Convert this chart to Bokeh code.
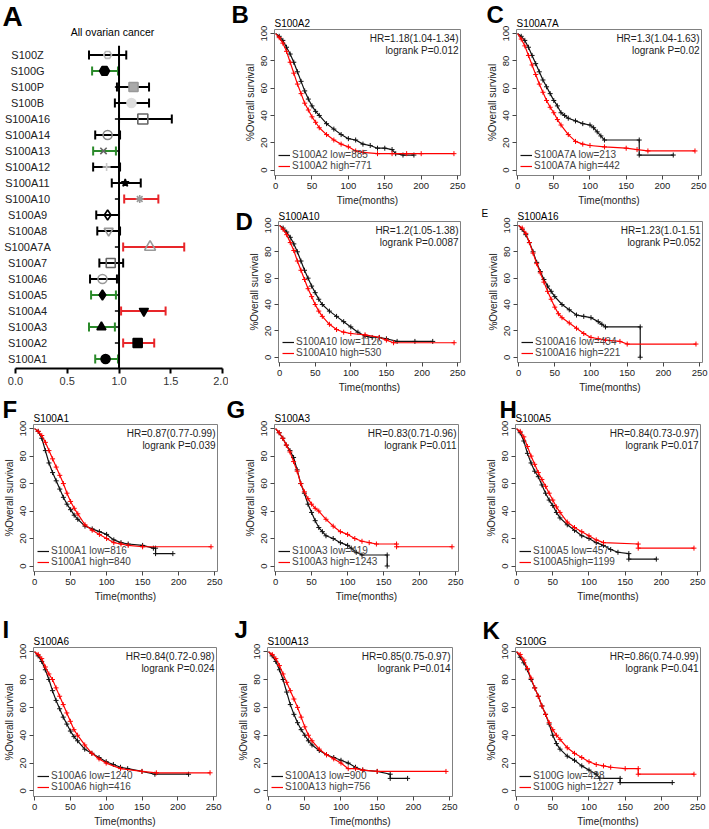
import math
from bokeh.plotting import figure
from bokeh.models import (Range1d, FactorRange, Label, Legend, LegendItem, Span, Title,
                          FixedTicker, ColumnDataSource, NumeralTickFormatter)
from bokeh.layouts import row, column
from bokeh.embed import file_html
from bokeh.resources import INLINE
from bokeh.core.properties import value

FONT = "Liberation Sans"

# ---------------- Panel A data (forest plot) ----------------
genes = ["S100A1", "S100A2", "S100A3", "S100A4", "S100A5", "S100A6", "S100A7",
         "S100A7A", "S100A8", "S100A9", "S100A10", "S100A11", "S100A12", "S100A13",
         "S100A14", "S100A16", "S100B", "S100P", "S100G", "S100Z"]
hr_val = [0.87, 1.18, 0.83, 1.24, 0.84, 0.84, 0.92, 1.30, 0.90, 0.89, 1.20, 1.06, 0.88,
          0.85, 0.89, 1.23, 1.12, 1.14, 0.86, 0.89]
ci_low = [0.77, 1.04, 0.71, 1.02, 0.73, 0.72, 0.81, 1.04, 0.79, 0.78, 1.05, 0.93, 0.75,
          0.75, 0.77, 1.00, 0.96, 0.98, 0.74, 0.71]
ci_high = [0.99, 1.34, 0.96, 1.45, 0.97, 0.98, 1.04, 1.63, 1.01, 1.00, 1.38, 1.21, 1.01,
           0.97, 1.01, 1.51, 1.29, 1.29, 0.99, 1.07]
forest_ticks = [0.0, 0.5, 1.0, 1.5, 2.0]

# styles for panel A
GREEN = "#2a8a2a"
RED = "#e8262a"
ci_colors = [GREEN, RED, GREEN, RED, GREEN, "black", "black", RED, "black", "black",
             RED, "black", "black", GREEN, "black", "black", "black", "black", GREEN, "black"]
mk_shape = ["circle", "square", "triangle", "inverted_triangle", "diamond", "circle", "square",
            "triangle", "inverted_triangle", "diamond", "asterisk", "star", "cross", "x",
            "circle", "square", "circle", "square", "hex", "hex"]
mk_line = ["black", "black", "black", "black", "black", "#999999", "#666666", "#999999",
           "#999999", "black", "#999999", "black", "#cccccc", "#666666", "#888888", "#666666",
           "#dddddd", "#999999", "black", "#bbbbbb"]
mk_fill = ["black", "black", "black", "black", "black", "white", "white", "white", "white",
           "white", "#999999", "black", "#cccccc", "#666666", "white", "white", "#dddddd",
           "#aaaaaa", "black", "white"]
mk_falpha = [1, 1, 1, 1, 1, 0, 0, 0, 0, 0, 1, 1, 1, 1, 0, 0, 1, 1, 1, 0]
mk_size = [9, 9, 9, 9, 10, 9, 9, 11, 9, 10, 8, 8, 8, 9, 9, 10, 9, 9, 10, 8]

# ---------------- KM data ----------------
km_x_ticks = [0, 50, 100, 150, 200, 250]
km_y_ticks = [0, 20, 40, 60, 80, 100]

B_low_t = [0, 5, 10, 15, 20, 25, 30, 35, 40, 45, 50, 55, 60, 70, 80, 90, 100, 110, 120, 130, 140, 150, 160, 165, 175, 190]
B_low_s = [100, 98, 95, 90, 85, 79, 72, 65, 58, 52, 47, 43, 40, 34, 30, 26, 23, 22, 19, 18, 16, 16, 15, 12, 11, 11]
B_high_t = [0, 5, 10, 15, 20, 25, 30, 35, 40, 45, 50, 55, 60, 70, 80, 90, 100, 110, 120, 140, 160, 180, 200, 245]
B_high_s = [100, 97, 93, 87, 79, 71, 63, 56, 49, 44, 39, 35, 31, 26, 22, 19, 17, 14, 13, 12, 12, 12, 12, 12]

C_low_t = [0, 5, 10, 15, 20, 25, 30, 35, 40, 45, 50, 55, 60, 65, 70, 80, 90, 100, 105, 110, 115, 120, 168, 168, 215]
C_low_s = [100, 98, 95, 90, 84, 78, 72, 66, 61, 56, 51, 47, 42, 40, 38, 36, 34, 33, 31, 28, 25, 22, 22, 11, 11]
C_high_t = [0, 5, 10, 15, 20, 25, 30, 35, 40, 45, 50, 55, 60, 70, 80, 90, 100, 120, 150, 165, 180, 245]
C_high_s = [100, 96, 91, 84, 77, 70, 63, 57, 51, 46, 42, 37, 33, 26, 21, 19, 18, 17, 16, 15, 14, 14]

D_low_t = [0, 5, 10, 15, 20, 25, 30, 35, 40, 45, 50, 55, 60, 70, 80, 90, 100, 110, 120, 130, 140, 150, 165, 190, 215]
D_low_s = [100, 98, 95, 91, 86, 80, 73, 66, 60, 54, 49, 44, 40, 35, 31, 27, 23, 19, 16, 15, 15, 14, 12, 12, 12]
D_high_t = [0, 5, 10, 15, 20, 25, 30, 35, 40, 45, 50, 55, 60, 70, 80, 90, 100, 120, 140, 150, 160, 245]
D_high_s = [100, 97, 93, 87, 81, 73, 66, 59, 52, 46, 40, 35, 31, 25, 21, 19, 18, 17, 15, 13, 11, 11]

E_low_t = [0, 5, 10, 15, 20, 25, 30, 35, 40, 45, 50, 60, 70, 80, 90, 100, 110, 115, 120, 168, 168]
E_low_s = [100, 97, 93, 87, 80, 72, 65, 59, 54, 50, 46, 40, 36, 32, 31, 30, 27, 25, 23, 23, 0]
E_high_t = [0, 5, 10, 15, 20, 25, 30, 35, 40, 45, 50, 55, 60, 70, 80, 90, 100, 110, 120, 140, 150, 245]
E_high_s = [100, 98, 94, 87, 79, 71, 64, 57, 50, 44, 38, 33, 30, 26, 22, 18, 15, 14, 13, 12, 10, 10]

F_low_t = [0, 5, 10, 15, 20, 25, 30, 35, 40, 45, 50, 55, 60, 70, 80, 90, 100, 110, 120, 130, 150, 165, 168, 168, 192]
F_low_s = [100, 98, 93, 84, 75, 68, 62, 56, 50, 45, 41, 37, 34, 29, 27, 25, 23, 19, 17, 16, 15, 13, 13, 9, 9]
F_high_t = [0, 5, 10, 15, 20, 25, 30, 35, 40, 45, 50, 55, 60, 70, 80, 90, 100, 110, 120, 130, 150, 245]
F_high_s = [100, 98, 95, 90, 84, 78, 72, 66, 60, 53, 47, 42, 38, 30, 26, 23, 20, 17, 16, 15, 14, 14]

G_low_t = [0, 5, 10, 15, 20, 25, 30, 35, 40, 45, 50, 55, 60, 65, 70, 80, 90, 100, 105, 112, 120, 155, 155]
G_low_s = [100, 97, 93, 88, 84, 79, 70, 60, 53, 45, 39, 33, 28, 25, 22, 20, 17, 15, 13, 10, 8, 8, 0]
G_high_t = [0, 5, 10, 15, 20, 25, 30, 35, 40, 45, 50, 55, 60, 70, 80, 90, 100, 110, 120, 130, 140, 168, 168, 245]
G_high_s = [100, 97, 93, 88, 83, 76, 69, 60, 54, 49, 45, 42, 40, 34, 29, 25, 23, 20, 18, 17, 16, 16, 14, 14]

H_low_t = [0, 5, 10, 15, 20, 25, 30, 35, 40, 45, 50, 55, 60, 70, 80, 90, 100, 110, 120, 130, 140, 155, 155, 193]
H_low_s = [100, 97, 91, 82, 75, 69, 65, 59, 53, 48, 44, 39, 35, 30, 26, 22, 20, 17, 15, 12, 10, 9, 5, 5]
H_high_t = [0, 5, 10, 15, 20, 25, 30, 35, 40, 45, 50, 55, 60, 70, 80, 90, 100, 110, 120, 168, 168, 245]
H_high_s = [100, 98, 94, 87, 80, 74, 68, 63, 58, 53, 48, 43, 39, 32, 28, 25, 22, 19, 17, 16, 13, 13]

I_low_t = [0, 5, 10, 15, 20, 25, 30, 35, 40, 45, 50, 55, 60, 70, 80, 90, 100, 110, 120, 130, 150, 168, 215]
I_low_s = [100, 97, 93, 87, 80, 72, 65, 59, 53, 48, 43, 39, 36, 30, 27, 24, 21, 19, 17, 16, 14, 12, 12]
I_high_t = [0, 5, 10, 15, 20, 25, 30, 35, 40, 45, 50, 55, 60, 70, 80, 90, 100, 120, 150, 170, 245]
I_high_s = [100, 98, 95, 89, 84, 80, 74, 68, 62, 56, 50, 44, 40, 33, 27, 23, 20, 16, 14, 13, 13]

J_low_t = [0, 5, 10, 15, 20, 25, 30, 35, 40, 45, 50, 55, 60, 70, 80, 90, 100, 110, 120, 130, 150, 168, 168, 192]
J_low_s = [100, 97, 93, 87, 80, 71, 62, 55, 49, 44, 40, 36, 33, 29, 26, 24, 22, 20, 17, 15, 14, 12, 9, 9]
J_high_t = [0, 5, 10, 15, 20, 25, 30, 35, 40, 45, 50, 55, 60, 70, 80, 90, 100, 110, 120, 130, 150, 245]
J_high_s = [100, 98, 95, 90, 84, 78, 72, 66, 60, 53, 46, 40, 36, 30, 26, 23, 20, 16, 16, 15, 14, 14]

K_low_t = [0, 5, 10, 15, 20, 25, 30, 35, 40, 45, 50, 55, 60, 70, 80, 90, 100, 110, 115, 143, 143, 215]
K_low_s = [100, 96, 92, 87, 80, 74, 68, 61, 55, 48, 40, 34, 30, 25, 22, 18, 15, 12, 9, 9, 6, 6]
K_high_t = [0, 5, 10, 15, 20, 25, 30, 35, 40, 45, 50, 55, 60, 70, 80, 90, 100, 110, 120, 130, 150, 168, 168, 245]
K_high_s = [100, 98, 94, 88, 81, 74, 68, 61, 55, 49, 44, 40, 37, 31, 27, 24, 21, 19, 18, 17, 16, 16, 12, 12]


def make_title(text, size, style, align, standoff, offset=0):
    try:
        t = Title(text=text, align=align, vertical_align="bottom", standoff=standoff,
                  offset=offset)
    except Exception:
        t = Title(text=text, align=align, vertical_align="bottom", standoff=0, offset=offset)
    t.text_font = FONT
    t.text_font_size = size
    t.text_font_style = style
    t.text_color = "black"
    return t


def style_axis(ax, tick_size="9.5px"):
    ax.axis_line_color = None
    ax.major_tick_in = 0
    ax.major_tick_out = 4
    ax.major_tick_line_color = "#444444"
    ax.minor_tick_line_color = None
    ax.major_label_text_font = FONT
    ax.major_label_text_font_size = tick_size
    ax.major_label_text_color = "#222222"
    ax.major_label_standoff = 3
    ax.axis_label_text_font = FONT
    ax.axis_label_text_font_size = "10px"
    ax.axis_label_text_font_style = "normal"
    ax.axis_label_text_color = "#222222"
    ax.axis_label_standoff = 3


def km_panel(name, letter, lt, ls, ht, hs, leg_low, leg_high, hr_txt, p_txt,
             fig_x, fig_y, w, h, bl, br, bt, bb, letter_x, letter_d,
             letter_size=24, letter_style="bold", letter_mode="title", gene_standoff=2):
    xr = Range1d(-1.5, 254)
    yr = Range1d(-4, 103)
    p = figure(width=w, height=h, output_backend="svg", toolbar_location=None,
               x_range=xr, y_range=yr, min_border_left=bl, min_border_right=br,
               min_border_top=bt, min_border_bottom=bb, title=None)
    p.add_layout(make_title(name, "10px", "normal", "left", gene_standoff), "above")
    gene_panel = 2 + 1.117 * 10 + gene_standoff
    frame_left = fig_x + bl
    frame_top = fig_y + max(bt, gene_panel)
    if letter_mode == "title":
        s_off = -2 * (gene_panel - letter_d)
        p.add_layout(make_title(letter, "%dpx" % letter_size, letter_style, "left", s_off,
                                offset=letter_x - frame_left), "above")
    else:
        # letter_d is here the top of the letter box
        p.add_layout(Label(x=xr.start, y=yr.end, text=letter, text_align="left",
                           text_baseline="top", x_offset=letter_x - frame_left,
                           y_offset=frame_top - letter_d, text_font=FONT,
                           text_font_size="%dpx" % letter_size, text_font_style=letter_style,
                           text_color="black"), "left")
    p.outline_line_color = "#808080"
    p.outline_line_width = 1
    p.xgrid.visible = False
    p.ygrid.visible = False
    p.xaxis.ticker = FixedTicker(ticks=km_x_ticks)
    p.yaxis.ticker = FixedTicker(ticks=km_y_ticks)
    style_axis(p.xaxis[0])
    style_axis(p.yaxis[0])
    p.xaxis.axis_label = "Time(months)"
    p.yaxis.axis_label = "%Overall survival"
    p.yaxis.major_label_orientation = "vertical"

    r_low = p.line(lt, ls, line_color="#111111", line_width=1.2)
    p.scatter(lt[1:], ls[1:], marker="cross", size=5, line_color="#111111", line_width=1)
    r_high = p.line(ht, hs, line_color="red", line_width=1.2)
    p.scatter(ht[1:], hs[1:], marker="cross", size=5, line_color="red", line_width=1)

    leg = Legend(items=[LegendItem(label=leg_low, renderers=[r_low]),
                        LegendItem(label=leg_high, renderers=[r_high])],
                 location="bottom_left")
    leg.background_fill_alpha = 0
    leg.border_line_alpha = 0
    leg.label_text_font = FONT
    leg.label_text_font_size = "10px"
    leg.label_height = 8
    leg.glyph_height = 8
    leg.glyph_width = 12
    leg.label_standoff = 2
    leg.spacing = -2
    leg.padding = 0
    leg.margin = 4
    p.add_layout(leg)

    p.add_layout(Label(x=xr.end, y=yr.end, text=hr_txt, text_align="right",
                       text_baseline="top", x_offset=-2, y_offset=-3, text_font=FONT,
                       text_font_size="10px", text_color="#222222"))
    p.add_layout(Label(x=xr.end, y=yr.end, text=p_txt, text_align="right",
                       text_baseline="top", x_offset=-2, y_offset=-15, text_font=FONT,
                       text_font_size="10px", text_color="#222222"))
    return p


# ---------------- Panel A ----------------
A_W, A_H = 228, 395
A_BL, A_BR, A_BT, A_BB = 0, 4, 45, 27
A_TITLE_STANDOFF = 15
src = ColumnDataSource(dict(gene=genes, hr=hr_val, lo=ci_low, hi=ci_high, cc=ci_colors,
                            mk=mk_shape, ml=mk_line, mf=mk_fill, ma=mk_falpha, ms=mk_size))
pA = figure(width=A_W, height=A_H, output_backend="svg", toolbar_location=None,
            x_range=Range1d(-0.145, 2.019),
            y_range=FactorRange(factors=genes, range_padding=0.09,
                                range_padding_units="absolute"),
            min_border_left=A_BL, min_border_right=A_BR, min_border_top=A_BT,
            min_border_bottom=A_BB, title=None)
pA.add_layout(make_title("All ovarian cancer", "10.5px", "normal", "center", A_TITLE_STANDOFF),
              "above")
a_panel = 2 + 1.117 * 10.5 + A_TITLE_STANDOFF
pA.add_layout(make_title("A", "28px", "bold", "left", -2 * (a_panel - 13), offset=2), "above")
pA.outline_line_color = None
pA.xgrid.visible = False
pA.ygrid.visible = False
pA.yaxis.visible = False
pA.xaxis.ticker = FixedTicker(ticks=forest_ticks)
pA.xaxis.formatter = NumeralTickFormatter(format="0.0")
ax = pA.xaxis[0]
ax.bounds = (forest_ticks[0], forest_ticks[-1])
ax.axis_line_width = 2
ax.axis_line_color = "black"
ax.major_tick_line_width = 2
ax.major_tick_out = 5
ax.major_tick_in = 0
ax.minor_tick_line_color = None
ax.major_label_text_font = FONT
ax.major_label_text_font_size = "11px"
ax.major_label_text_color = "#333333"
ax.major_label_standoff = 3

pA.add_layout(Span(location=1.0, dimension="height", line_color="black", line_width=2))
pA.segment(x0=0.96, x1=1.0, y0="gene", y1="gene", line_color="black", line_width=1.5, source=src)
pA.segment(x0="lo", x1="hi", y0="gene", y1="gene", line_color="cc", line_width=2, source=src)
pA.scatter(x="lo", y="gene", marker="dash", angle=math.pi / 2, size=9, line_color="cc",
           line_width=2, source=src)
pA.scatter(x="hi", y="gene", marker="dash", angle=math.pi / 2, size=9, line_color="cc",
           line_width=2, source=src)
pA.scatter(x="hr", y="gene", marker="mk", size="ms", line_color="ml", fill_color="mf",
           fill_alpha="ma", line_width=1.6, source=src)
pA.text(x=0.116, y="gene", text="gene", text_align="center", text_baseline="middle",
        text_font=value(FONT), text_font_size="11px", text_color="#222222", source=src)

# ---------------- KM panels ----------------
pB = km_panel("S100A2", "B", B_low_t, B_low_s, B_high_t, B_high_s,
              "S100A2 low=885", "S100A2 high=771", "HR=1.18(1.04-1.34)", "logrank P=0.012",
              228, 0, 238, 208, 46, 6, 29, 27, 231, 2)
pC = km_panel("S100A7A", "C", C_low_t, C_low_s, C_high_t, C_high_s,
              "S100A7A low=213", "S100A7A high=442", "HR=1.3(1.04-1.63)", "logrank P=0.02",
              466, 0, 243, 208, 50, 8, 29, 27, 486, 2)
pD = km_panel("S100A10", "D", D_low_t, D_low_s, D_high_t, D_high_s,
              "S100A10 low=1126", "S100A10 high=530", "HR=1.2(1.05-1.38)", "logrank P=0.0087",
              228, 208, 238, 187, 46, 6, 13, 27, 231, 208, letter_mode="left", gene_standoff=0)
pE = km_panel("S100A16", "E", E_low_t, E_low_s, E_high_t, E_high_s,
              "S100A16 low=434", "S100A16 high=221", "HR=1.23(1.0-1.51", "logrank P=0.052",
              466, 208, 243, 187, 51, 7, 13, 27, 481, 208, letter_size=10,
              letter_style="normal", letter_mode="left", gene_standoff=0)
pF = km_panel("S100A1", "F", F_low_t, F_low_s, F_high_t, F_high_s,
              "S100A1 low=816", "S100A1 high=840", "HR=0.87(0.77-0.99)", "logrank P=0.039",
              0, 395, 224, 209, 31, 7, 29, 27, 0, 1.5)
pG = km_panel("S100A3", "G", G_low_t, G_low_s, G_high_t, G_high_s,
              "S100A3 low=419", "S100A3 high=1243", "HR=0.83(0.71-0.96)", "logrank P=0.011",
              224, 395, 242, 209, 50, 8, 29, 27, 226, 1.5)
pH = km_panel("S100A5", "H", H_low_t, H_low_s, H_high_t, H_high_s,
              "S100A5 low=457", "S100A5high=1199", "HR=0.84(0.73-0.97)", "logrank P=0.017",
              466, 395, 243, 209, 49, 9, 29, 27, 499, 1.5)
pI = km_panel("S100A6", "I", I_low_t, I_low_s, I_high_t, I_high_s,
              "S100A6 low=1240", "S100A6 high=416", "HR=0.84(0.72-0.98)", "logrank P=0.024",
              0, 604, 224, 225, 32, 8, 43, 29, 1, 5)
pJ = km_panel("S100A13", "J", J_low_t, J_low_s, J_high_t, J_high_s,
              "S100A13 low=900", "S100A13 high=756", "HR=0.85(0.75-0.97)", "logrank P=0.014",
              224, 604, 242, 225, 43, 14, 43, 29, 234, 5)
pK = km_panel("S100G", "K", K_low_t, K_low_s, K_high_t, K_high_s,
              "S100G low=428", "S100G high=1227", "HR=0.86(0.74-0.99)", "logrank P=0.041",
              466, 604, 243, 225, 49, 9, 43, 29, 482, 4)

layout = column(
    row(pA, column(row(pB, pC), row(pD, pE))),
    row(pF, pG, pH),
    row(pI, pJ, pK),
)

open("out.html", "w").write(file_html(layout, INLINE))
